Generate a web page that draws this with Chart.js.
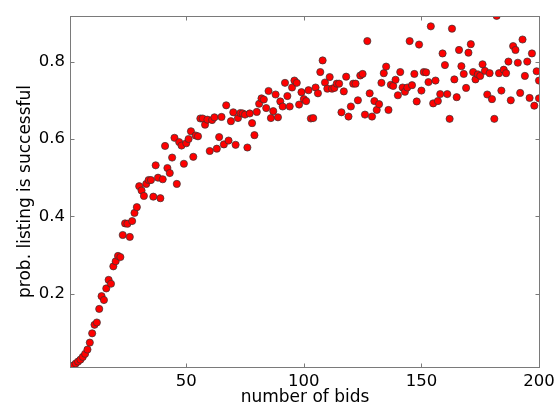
<!DOCTYPE html>
<html>
<head>
<meta charset="utf-8">
<script src="https://cdn.jsdelivr.net/npm/chart.js@4.4.0/dist/chart.umd.min.js"></script>
<style>
	html, body { margin: 0; padding: 0; background: #fff; }
</style>
</head>
<body>
<canvas id="graficoLances" width="560" height="411"></canvas>
<script>
var bids = [
	1, 2, 3, 4, 5, 6, 7, 8, 9, 10, 11, 12, 13, 14, 15, 16, 17, 18, 19, 20,
	21, 22, 23, 24, 25, 26, 27, 28, 29, 30, 31, 32, 33, 34, 35, 36, 37, 38, 39, 40,
	41, 42, 43, 44, 45, 46, 47, 48, 49, 50, 51, 52, 53, 54, 55, 56, 57, 58, 59, 60,
	61, 62, 63, 64, 65, 66, 67, 68, 69, 70, 71, 72, 73, 74, 75, 76, 77, 78, 79, 80,
	81, 82, 83, 84, 85, 86, 87, 88, 89, 90, 91, 92, 93, 94, 95, 96, 97, 98, 99, 100,
	101, 102, 103, 104, 105, 106, 107, 108, 109, 110, 111, 112, 113, 114, 115, 116, 117, 118, 119, 120,
	121, 122, 123, 124, 125, 126, 127, 128, 129, 130, 131, 132, 133, 134, 135, 136, 137, 138, 139, 140,
	141, 142, 143, 144, 145, 146, 147, 148, 149, 150, 151, 152, 153, 154, 155, 156, 157, 158, 159, 160,
	161, 162, 163, 164, 165, 166, 167, 168, 169, 170, 171, 172, 173, 174, 175, 176, 177, 178, 179, 180,
	181, 182, 183, 184, 185, 186, 187, 188, 189, 190, 191, 192, 193, 194, 195, 196, 197, 198, 199, 200,
	200
];

var probs = [
	0.011, 0.015, 0.020, 0.025, 0.030, 0.037, 0.045, 0.056, 0.074, 0.098,
	0.120, 0.126, 0.161, 0.194, 0.184, 0.214, 0.236, 0.226, 0.271, 0.284,
	0.298, 0.295, 0.352, 0.382, 0.381, 0.347, 0.388, 0.409, 0.424, 0.478,
	0.467, 0.453, 0.484, 0.494, 0.494, 0.451, 0.532, 0.500, 0.447, 0.496,
	0.582, 0.525, 0.512, 0.552, 0.603, 0.484, 0.592, 0.583, 0.536, 0.589,
	0.600, 0.620, 0.554, 0.609, 0.607, 0.653, 0.653, 0.637, 0.650, 0.569,
	0.649, 0.656, 0.575, 0.605, 0.657, 0.586, 0.687, 0.596, 0.646, 0.669,
	0.585, 0.654, 0.667, 0.666, 0.663, 0.578, 0.666, 0.641, 0.610, 0.670,
	0.691, 0.705, 0.702, 0.680, 0.724, 0.654, 0.672, 0.715, 0.656, 0.697,
	0.684, 0.745, 0.711, 0.684, 0.733, 0.751, 0.745, 0.689, 0.721, 0.703,
	0.698, 0.726, 0.653, 0.654, 0.733, 0.718, 0.773, 0.803, 0.746, 0.730,
	0.760, 0.730, 0.732, 0.743, 0.743, 0.669, 0.723, 0.761, 0.658, 0.684,
	0.743, 0.743, 0.700, 0.764, 0.768, 0.663, 0.853, 0.718, 0.658, 0.698,
	0.675, 0.690, 0.745, 0.770, 0.787, 0.675, 0.740, 0.737, 0.753, 0.713,
	0.773, 0.733, 0.722, 0.733, 0.853, 0.739, 0.768, 0.697, 0.844, 0.725,
	0.773, 0.772, 0.747, 0.891, 0.692, 0.751, 0.698, 0.716, 0.821, 0.791,
	0.716, 0.652, 0.885, 0.754, 0.708, 0.830, 0.788, 0.768, 0.732, 0.823,
	0.845, 0.773, 0.754, 0.767, 0.763, 0.793, 0.776, 0.715, 0.770, 0.703,
	0.652, 0.918, 0.770, 0.725, 0.779, 0.770, 0.800, 0.700, 0.840, 0.830,
	0.797, 0.719, 0.857, 0.763, 0.800, 0.706, 0.821, 0.686, 0.775, 0.751,
	0.705
];

var xTicks = [50, 100, 150, 200];
var yTicks = [0.2, 0.4, 0.6, 0.8];
var xTitle = 'number of bids';
var yTitle = 'prob. listing is successful';

var fonte = '"DejaVu Sans", sans-serif';
var corEixo = '#7a7a7a';

// frame and inward ticks, matplotlib style
var moldura = {
	id: 'moldura',
	afterDatasetsDraw: function(chart) {
		var ctx = chart.ctx;
		var a = chart.chartArea;
		var sx = chart.scales.x;
		var sy = chart.scales.y;
		var l = Math.round(a.left) - 0.5;
		var r = Math.round(a.right) + 0.5;
		var t = Math.round(a.top) + 0.5;
		var b = Math.round(a.bottom) + 0.5;
		var len = 4;

		ctx.save();
		ctx.strokeStyle = corEixo;
		ctx.lineWidth = 1;
		ctx.strokeRect(l, t, r - l, b - t);

		ctx.beginPath();
		xTicks.forEach(function(v) {
			var px = Math.round(sx.getPixelForValue(v)) + 0.5;
			ctx.moveTo(px, b); ctx.lineTo(px, b - len);
			ctx.moveTo(px, t); ctx.lineTo(px, t + len);
		});
		yTicks.forEach(function(v) {
			var py = Math.round(sy.getPixelForValue(v)) + 0.5;
			ctx.moveTo(l, py); ctx.lineTo(l + len, py);
			ctx.moveTo(r, py); ctx.lineTo(r - len, py);
		});
		ctx.stroke();
		ctx.restore();
	}
};

var pontos = bids.map(function(b, i) {
	return { x: b, y: probs[i] };
});

var ctx = document.getElementById('graficoLances').getContext('2d');
var graficoLances = new Chart(ctx, {
	type: 'scatter',
	data: {
		datasets: [{
			data: pontos,
			backgroundColor: '#ff0000',
			borderColor: '#333333',
			borderWidth: 0.7,
			pointRadius: 3.6,
			pointHoverRadius: 3.6,
			clip: 0
		}]
	},
	options: {
		responsive: false,
		devicePixelRatio: 1,
		animation: false,
		events: [],
		layout: {
			padding: { top: 5, right: 21, left: 0, bottom: 0 }
		},
		plugins: {
			legend: { display: false },
			tooltip: { enabled: false }
		},
		scales: {
			x: {
				type: 'linear',
				min: 1,
				max: 200,
				grid: { display: false, drawTicks: false },
				border: { display: false },
				afterBuildTicks: function(s) {
					s.ticks = xTicks.map(function(v) { return { value: v }; });
				},
				afterFit: function(s) { s.height = 44; },
				ticks: {
					color: '#000',
					padding: 5,
					maxRotation: 0,
					font: { family: fonte, size: 16.5 }
				},
				title: {
					display: true,
					text: xTitle,
					color: '#000',
					padding: { top: 0, bottom: 3 },
					font: { family: fonte, size: 17 }
				}
			},
			y: {
				type: 'linear',
				min: 0.011,
				max: 0.918,
				grid: { display: false, drawTicks: false },
				border: { display: false },
				afterBuildTicks: function(s) {
					s.ticks = yTicks.map(function(v) { return { value: v }; });
				},
				afterFit: function(s) { s.width = 71; },
				ticks: {
					color: '#000',
					padding: 6,
					font: { family: fonte, size: 16.5 },
					callback: function(v) { return v.toFixed(1); }
				},
				title: {
					display: true,
					text: yTitle,
					color: '#000',
					padding: { top: 15, bottom: 0 },
					font: { family: fonte, size: 17 }
				}
			}
		}
	},
	plugins: [moldura]
});
</script>
</body>
</html>
